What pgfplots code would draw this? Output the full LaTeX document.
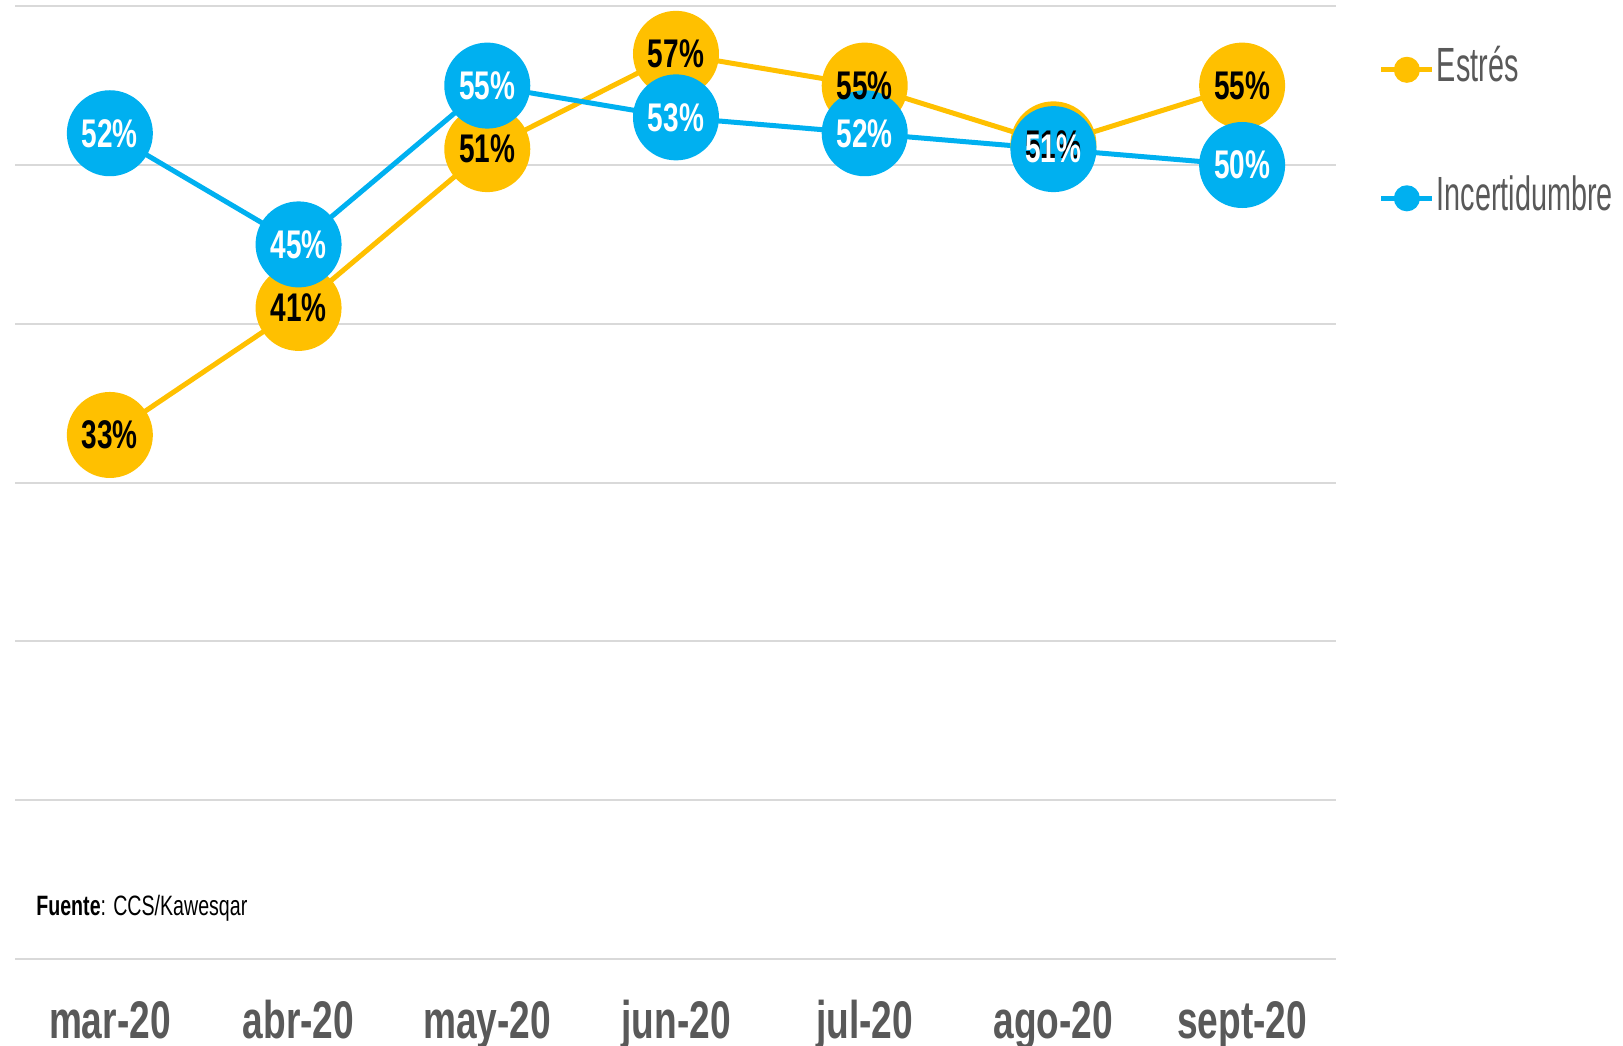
\documentclass[border=0pt]{standalone}
\usepackage{fontspec}
\setmainfont{Liberation Sans}
\newfontfamily\condA{Liberation Sans}[FakeStretch=0.7]
\newfontfamily\condB{Liberation Sans}[FakeStretch=0.6]
\usepackage{pgfplots}
\pgfplotsset{compat=1.18}
\definecolor{cyel}{HTML}{FFC000}
\definecolor{cblu}{HTML}{00B0F0}
\definecolor{cgrid}{HTML}{D9D9D9}
\definecolor{ctxt}{HTML}{595959}
\begin{document}
\begin{tikzpicture}
\useasboundingbox (0,0) rectangle (811.5pt,522.5pt);
\begin{axis}[
  at={(7.75pt,43pt)}, anchor=south west,
  scale only axis, width=660.5pt, height=476.4pt,
  xmin=-0.5, xmax=6.5, ymin=0, ymax=60,
  clip=false,
  axis line style={draw=none},
  tick style={draw=none},
  ytick={0,10,20,30,40,50,60},
  yticklabels={},
  ymajorgrids,
  major grid style={color=cgrid, line width=1pt},
  xtick={0,1,2,3,4,5,6},
  xticklabels={mar-20,abr-20,may-20,jun-20,jul-20,ago-20,sept-20},
  xticklabel style={anchor=base, yshift=-39.5pt, text=ctxt, text depth=0pt,
    font=\condA\bfseries\fontsize{26.5}{26.5}\selectfont},
  legend cell align=left,
  legend style={at={(rel axis cs:1,1)}, anchor=north west,
    xshift=21pt, yshift=-20.6pt, draw=none, fill=none, inner sep=0pt,
    row sep=42.25pt, column sep=1pt,
    nodes={inner sep=0pt, text height=17pt, text depth=5pt, text=ctxt,
      font=\condB\fontsize{24}{24}\selectfont}},
  legend image code/.code={
    \draw[#1, mark=none, line width=2.5pt] (0pt,0pt) -- (25.5pt,0pt);
    \fill[#1] (12.75pt,0pt) circle (5.25pt);
  },
  point meta=y,
  every node near coord/.style={anchor=center, inner sep=0pt,
    font=\condA\bfseries\fontsize{20}{20}\selectfont},
]
\addplot[color=cyel, line width=2.5pt, mark=*, mark size=20.25pt,
  mark options={draw=none, fill=cyel}]
  coordinates {(0,33) (1,41) (2,51) (3,57) (4,55) (5,51.3) (6,55)};
\addlegendentry{Estrés}
\addplot[color=cblu, line width=2.5pt, mark=*, mark size=20.25pt,
  mark options={draw=none, fill=cblu}]
  coordinates {(0,52) (1,45) (2,55) (3,53) (4,52) (5,51) (6,50)};
\addlegendentry{Incertidumbre}
\addplot[draw=none, mark=none, forget plot,
  nodes near coords={\pgfmathprintnumber[fixed,precision=0,assume math mode=true]{\pgfplotspointmeta}\%},
  every node near coord/.append style={text=black}]
  coordinates {(0,33) (1,41) (2,51) (3,57) (4,55) (5,51.3) (6,55)};
\addplot[draw=none, mark=none, forget plot,
  nodes near coords={\pgfmathprintnumber[fixed,precision=0,assume math mode=true]{\pgfplotspointmeta}\%},
  every node near coord/.append style={text=white}]
  coordinates {(0,52) (1,45) (2,55) (3,53) (4,52) (5,51) (6,50)};
\node[anchor=west, inner sep=0pt, font=\condA\fontsize{14}{14}\selectfont]
  at ([xshift=10.25pt, yshift=25.5pt]rel axis cs:0,0) {\textbf{Fuente}: CCS/Kawesqar};
\end{axis}
\end{tikzpicture}
\end{document}
